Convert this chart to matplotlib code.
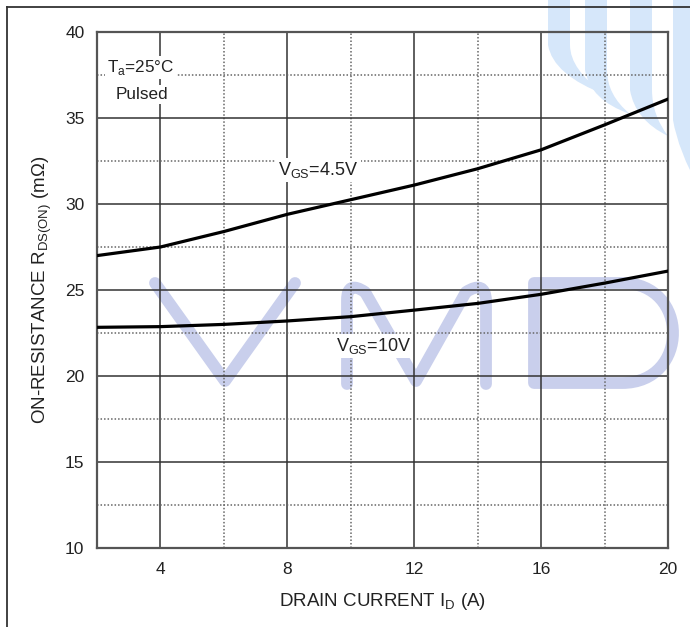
import matplotlib
matplotlib.use("Agg")
import matplotlib.pyplot as plt
from matplotlib.lines import Line2D
from matplotlib.path import Path
from matplotlib.patches import PathPatch

plt.rcParams['font.family'] = ['Liberation Sans', 'DejaVu Sans']
plt.rcParams['mathtext.fontset'] = 'custom'
plt.rcParams['mathtext.rm'] = 'Liberation Sans'

# drain current (A)
i_d = [2, 4, 6, 8, 10, 12, 14, 16, 18, 20]
# on-resistance (mOhm)
r_vgs45 = [27.0, 27.5, 28.4, 29.4, 30.25, 31.1, 32.05, 33.15, 34.6, 36.1]
r_vgs10 = [22.83, 22.87, 23.0, 23.2, 23.45, 23.83, 24.22, 24.75, 25.4, 26.1]

x_major = [4, 8, 12, 16, 20]
x_minor = [6, 10, 14, 18]
y_major = [10, 15, 20, 25, 30, 35, 40]
y_minor = [12.5, 17.5, 22.5, 27.5, 32.5, 37.5]

W, H = 690, 627
fig = plt.figure(figsize=(6.9, 6.27), dpi=100)


def px(pts):
    # page pixel coords -> figure fraction
    return [(x / W, 1 - y / H) for x, y in pts]


def mark(verts, codes, **kw):
    fig.add_artist(PathPatch(Path(px(verts), codes), transform=fig.transFigure,
                             zorder=-1, **kw))


# watermark letters (behind the chart)
wm = dict(facecolor='none', edgecolor='#c9cfec', lw=8.5, capstyle='round',
          joinstyle='round')
M, L, C3, C4, CL = Path.MOVETO, Path.LINETO, Path.CURVE3, Path.CURVE4, Path.CLOSEPOLY
mark([(155, 283), (225, 381), (295, 283)], [M, L, L], **wm)
mark([(347, 384), (347, 300), (347, 280), (365, 292), (416, 381), (466, 292),
      (485, 280), (486, 300), (486, 384)], [M, L, C3, C3, L, L, C3, C3, L], **wm)
mark([(534, 283), (622, 283), (690, 283), (690, 383), (622, 383), (534, 383),
      (534, 283)], [M, L, C4, C4, C4, L, CL], **wm)

# logo bands top right
band = dict(facecolor='#d6e7fa', edgecolor='none')
for x0, w, ys, tip in [(548, 22, 45, (606, 95)), (585, 22, 70, (630, 114)),
                       (630, 22, 90, (668, 136)), (673, 22, 120, (700, 190))]:
    mark([(x0, 0), (x0 + w, 0), (x0 + w, ys), (x0 + w, ys + 25), tip,
          (x0 + 5, ys + 30), (x0, ys), (x0, 0)],
         [M, L, L, C3, C3, C3, C3, CL], **band)

ax = fig.add_axes([97 / W, 1 - 548 / H, 571 / W, 516 / H])
ax.set_facecolor('none')

for x in x_major[:-1]:
    ax.axvline(x, color='#333333', lw=1.1, zorder=1)
for x in x_minor:
    ax.axvline(x, color='#666666', lw=1.1, ls=(0, (1, 1.3)), zorder=1)
for y in y_major[1:-1]:
    ax.axhline(y, color='#333333', lw=1.1, zorder=1)
for y in y_minor:
    ax.axhline(y, color='#666666', lw=1.1, ls=(0, (1, 1.3)), zorder=1)

ax.plot(i_d, r_vgs45, color='black', lw=2.3, zorder=3)
ax.plot(i_d, r_vgs10, color='black', lw=2.3, zorder=3)

ax.set_xlim(2, 20)
ax.set_ylim(10, 40)
ax.set_xticks(x_major)
ax.set_yticks(y_major)
ax.tick_params(length=0, labelsize=12.5, colors='#222222')
ax.tick_params(axis='y', pad=9)
ax.tick_params(axis='x', pad=10)
for s in ax.spines.values():
    s.set_color('#555555')
    s.set_linewidth(1.6)

box = dict(facecolor='white', edgecolor='none', pad=1.5)
ax.text(2.33, 37.67, r'T$_\mathregular{a}$=25°C', fontsize=12.3, color='#222222',
        va='baseline', ha='left', bbox=box, zorder=4)
ax.text(2.58, 36.1, 'Pulsed', fontsize=12.3, color='#222222',
        va='baseline', ha='left', bbox=box, zorder=4)
ax.text(7.72, 31.69, r'V$_\mathregular{GS}$=4.5V', fontsize=13, color='#222222',
        va='baseline', ha='left', bbox=box, zorder=4)
ax.text(9.52, 21.45, r'V$_\mathregular{GS}$=10V', fontsize=13, color='#222222',
        va='baseline', ha='left', bbox=box, zorder=4)

ax.set_xlabel(r'DRAIN CURRENT I$_\mathregular{D}$ (A)', fontsize=13.5,
              color='#222222', labelpad=10)
ax.set_ylabel(r'ON-RESISTANCE R$_\mathregular{DS(ON)}$ (m$\Omega$)', fontsize=13.5,
              color='#222222', labelpad=8)

# page frame
fig.add_artist(Line2D([7 / W, 7 / W], [0, 1 - 7 / H], color='#333333', lw=1.3))
fig.add_artist(Line2D([7 / W, 1], [1 - 7 / H, 1 - 7 / H], color='#333333', lw=1.3))

fig.savefig('out.png', dpi=100)
